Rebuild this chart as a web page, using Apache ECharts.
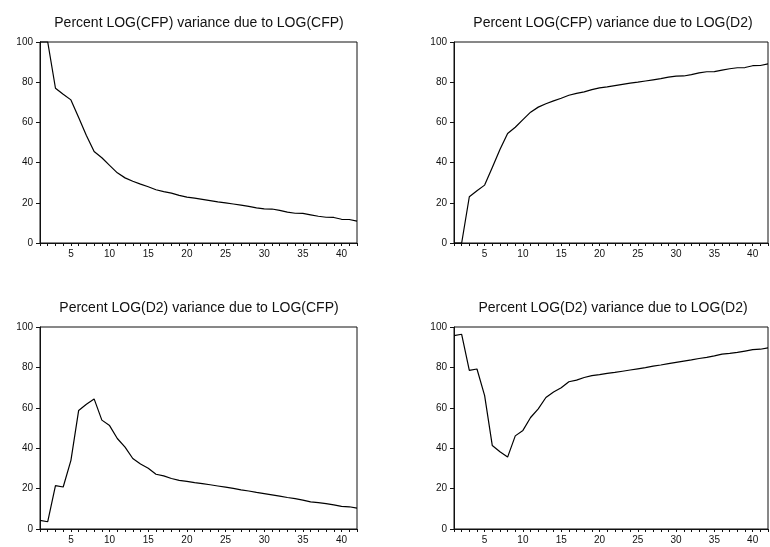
<!DOCTYPE html>
<html>
<head>
<meta charset="utf-8">
<title>Variance decomposition</title>
<script src="https://cdn.jsdelivr.net/npm/echarts@6/dist/echarts.min.js"></script>
<style>
  html, body { margin: 0; padding: 0; background: #fff; }
  #chart { width: 770px; height: 547px; }
</style>
</head>
<body>
<div id="chart"></div>
<script>
// Forecast horizons (periods ahead)
const horizons = Array.from({ length: 42 }, (_, i) => String(i + 1));

// Y-axis tick values
const yTicks = [0, 20, 40, 60, 80, 100];

// Panel titles
const titles = [
  'Percent LOG(CFP) variance due to LOG(CFP)',
  'Percent LOG(CFP) variance due to LOG(D2)',
  'Percent LOG(D2) variance due to LOG(CFP)',
  'Percent LOG(D2) variance due to LOG(D2)'
];

// Share of LOG(CFP) forecast-error variance explained by LOG(CFP)
const cfpByCfp = [
  100, 100, 77.0, 74.0, 71.2, 62.4, 53.5, 45.5, 42.4, 38.6,
  34.9, 32.4, 30.7, 29.3, 28.0, 26.5, 25.6, 24.8, 23.7, 22.8,
  22.3, 21.7, 21.1, 20.5, 20.0, 19.4, 18.8, 18.2, 17.5, 17.0,
  16.9, 16.2, 15.4, 14.8, 14.7, 14.0, 13.3, 12.8, 12.7, 11.8,
  11.7, 10.9
];

// Share of LOG(CFP) forecast-error variance explained by LOG(D2)
const cfpByD2 = [
  0, 0, 23.0, 26.0, 28.8, 37.6, 46.5, 54.5, 57.6, 61.4,
  65.1, 67.6, 69.3, 70.7, 72.0, 73.5, 74.4, 75.2, 76.3, 77.2,
  77.7, 78.3, 78.9, 79.5, 80.0, 80.6, 81.2, 81.8, 82.5, 83.0,
  83.1, 83.8, 84.6, 85.2, 85.3, 86.0, 86.7, 87.2, 87.3, 88.2,
  88.3, 89.1
];

// Share of LOG(D2) forecast-error variance explained by LOG(CFP)
const d2ByCfp = [
  4.3, 3.6, 21.5, 20.8, 34.0, 58.7, 61.8, 64.4, 53.9, 51.2,
  44.8, 40.5, 34.9, 32.2, 30.1, 27.1, 26.3, 25.0, 24.1, 23.6,
  23.0, 22.5, 21.9, 21.3, 20.7, 20.1, 19.4, 18.8, 18.1, 17.5,
  16.9, 16.3, 15.6, 15.0, 14.3, 13.4, 13.1, 12.6, 11.9, 11.2,
  11.0, 10.3
];

// Share of LOG(D2) forecast-error variance explained by LOG(D2)
const d2ByD2 = [
  95.7, 96.4, 78.5, 79.2, 66.0, 41.3, 38.2, 35.6, 46.1, 48.8,
  55.2, 59.5, 65.1, 67.8, 69.9, 72.9, 73.7, 75.0, 75.9, 76.4,
  77.0, 77.5, 78.1, 78.7, 79.3, 79.9, 80.6, 81.2, 81.9, 82.5,
  83.1, 83.7, 84.4, 85.0, 85.7, 86.6, 86.9, 87.4, 88.1, 88.8,
  89.0, 89.7
];

const panels = [cfpByCfp, cfpByD2, d2ByCfp, d2ByD2];

// Plot boxes: [left, top, width, height]
const boxes = [
  [40, 42, 317, 201],
  [454, 42, 314, 201],
  [40, 327, 317, 202],
  [454, 327, 314, 202]
];

// Horizontal anchor of each panel title
const titleX = [194, 608, 194, 608];

const FONT = '"Liberation Sans", Arial, sans-serif';
const INK = '#111';

const chart = echarts.init(document.getElementById('chart'), null, { renderer: 'canvas' });

const option = {
  animation: false,
  backgroundColor: '#fff',
  textStyle: { fontFamily: FONT },
  title: titles.map((t, i) => ({
    text: t,
    left: titleX[i],
    top: boxes[i][1] - 31,
    textAlign: 'center',
    textStyle: { fontFamily: FONT, fontSize: 14, fontWeight: 'normal', color: INK }
  })),
  grid: boxes.map(b => ({
    left: b[0], top: b[1], width: b[2], height: b[3],
    show: true, borderColor: INK, borderWidth: 1, backgroundColor: 'transparent',
    containLabel: false
  })),
  xAxis: boxes.map((b, i) => ({
    type: 'category',
    gridIndex: i,
    data: horizons,
    boundaryGap: false,
    axisLine: { show: true, lineStyle: { color: INK, width: 1 } },
    axisTick: { show: true, interval: 0, length: 3, inside: false, lineStyle: { color: INK } },
    axisLabel: {
      interval: (idx, val) => Number(val) % 5 === 0,
      margin: 6,
      fontSize: 10,
      color: INK,
      fontFamily: FONT
    },
    splitLine: { show: false }
  })),
  yAxis: boxes.map((b, i) => ({
    type: 'value',
    gridIndex: i,
    min: yTicks[0],
    max: yTicks[yTicks.length - 1],
    interval: yTicks[1] - yTicks[0],
    axisLine: { show: true, lineStyle: { color: INK, width: 1 } },
    axisTick: { show: true, length: 4, lineStyle: { color: INK } },
    axisLabel: { margin: 7, fontSize: 10, color: INK, fontFamily: FONT },
    splitLine: { show: false }
  })),
  series: panels.map((vals, i) => ({
    type: 'line',
    xAxisIndex: i,
    yAxisIndex: i,
    data: vals,
    showSymbol: false,
    symbol: 'none',
    clip: false,
    lineStyle: { color: '#000', width: 1.2 }
  }))
};

chart.setOption(option);
</script>
</body>
</html>
